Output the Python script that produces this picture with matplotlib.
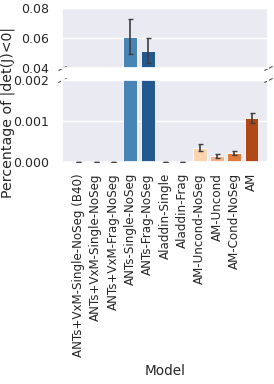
import matplotlib
matplotlib.use('Agg')
import matplotlib.pyplot as plt
import seaborn as sns
import numpy as np

models = ['ANTs+VxM-Single-NoSeg (B40)', 'ANTs+VxM-Single-NoSeg', 'ANTs+VxM-Frag-NoSeg',
          'ANTs-Single-NoSeg', 'ANTs-Frag-NoSeg', 'Aladdin-Single', 'Aladdin-Frag',
          'AM-Uncond-NoSeg', 'AM-Uncond', 'AM-Cond-NoSeg', 'AM']
pct = [0.0, 0.0, 0.0, 0.0610, 0.0515, 0.0, 0.0, 0.00035, 0.000147, 0.000227, 0.00107]
err = [0.0, 0.0, 0.0, 0.0114, 0.0084, 0.0, 0.0, 0.00008, 0.00004, 0.00005, 0.00013]
colors = ['#c6dbef', '#9ecae1', '#6baed6', '#4884b6', '#23598f', '#1c4a7d', '#133a66',
          '#fad5b0', '#f3b185', '#e07a3c', '#b04818']

sns.set_theme(style='darkgrid')
plt.rcParams['font.family'] = ['DejaVu Sans']

fig = plt.figure(figsize=(2.74, 3.84), dpi=100)
W, H = 274, 384
ax_top = fig.add_axes([62 / W, (H - 68) / H, 206 / W, 60 / H])
ax_bot = fig.add_axes([62 / W, (H - 162) / H, 206 / W, 82 / H])

x = np.arange(len(models))
for ax in (ax_top, ax_bot):
    ax.bar(x, pct, width=0.8, color=colors, edgecolor='white', linewidth=0.6, zorder=2)
    ax.errorbar(x, pct, yerr=err, fmt='none', ecolor='#3f3f3f', elinewidth=1.2,
                capsize=1.8, capthick=1.0, zorder=3)
    ax.set_xlim(-0.95, 10.95)
    ax.xaxis.grid(False)
    ax.tick_params(axis='y', labelsize=9.0, pad=3.5)

ax_top.set_ylim(0.04, 0.08)
ax_top.set_yticks([0.04, 0.06, 0.08])
ax_top.set_yticklabels(['0.04', '0.06', '0.08'])
ax_top.set_xticks(x)
ax_top.set_xticklabels([])
ax_top.tick_params(axis='x', length=0)

ax_bot.set_ylim(0, 0.002)
ax_bot.set_yticks([0.0, 0.001, 0.002])
ax_bot.set_yticklabels(['0.000', '0.001', '0.002'])
ax_bot.set_xticks(x)
ax_bot.set_xticklabels(models, rotation=90, fontsize=8.6)
ax_bot.tick_params(axis='x', pad=2)

# break marks
d = 0.5
kw = dict(marker=[(-1, -d), (1, d)], markersize=6, linestyle='none',
          color='#555555', mec='#555555', mew=0.8, clip_on=False)
ax_top.plot([0, 1], [0, 0], transform=ax_top.transAxes, **kw)
ax_bot.plot([0, 1], [1, 1], transform=ax_bot.transAxes, **kw)

fig.text(8 / W, 1 - 113 / H, 'Percentage of |det(J)<0|', rotation=90,
         ha='center', va='center', fontsize=10.2)
fig.text(165 / W, 1 - 371 / H, 'Model', ha='center', va='center', fontsize=9.8)

fig.savefig('out.png', dpi=100)
